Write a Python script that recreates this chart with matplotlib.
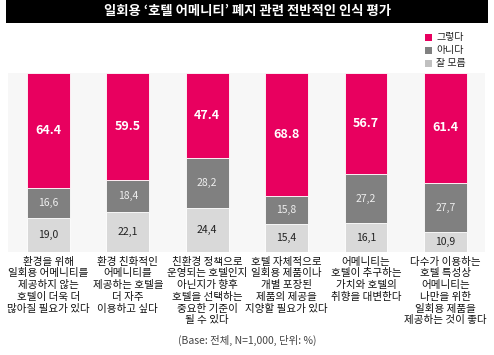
import matplotlib
matplotlib.use("Agg")
import matplotlib.pyplot as plt
from matplotlib.patches import Rectangle
import matplotlib.transforms as mtransforms

plt.rcParams['font.family'] = ['Noto Sans CJK KR', 'DejaVu Sans']

title = "일회용 ‘호텔 어메니티’ 폐지 관련 전반적인 인식 평가"
categories = [
    "환경을 위해\n일회용 어메니티를\n제공하지 않는\n호텔이 더욱 더\n많아질 필요가 있다",
    "환경 친화적인\n어메니티를\n제공하는 호텔을\n더 자주\n이용하고 싶다",
    "친환경 정책으로\n운영되는 호텔인지\n아닌지가 향후\n호텔을 선택하는\n중요한 기준이\n될 수 있다",
    "호텔 자체적으로\n일회용 제품이나\n개별 포장된\n제품의 제공을\n지양할 필요가 있다",
    "어메니티는\n호텔이 추구하는\n가치와 호텔의\n취향을 대변한다",
    "다수가 이용하는\n호텔 특성상\n어메니티는\n나만을 위한\n일회용 제품을\n제공하는 것이 좋다",
]
series_names = ["그렇다", "아니다", "잘 모름"]
yes_vals = [64.4, 59.5, 47.4, 68.8, 56.7, 61.4]
no_vals = [16.6, 18.4, 28.2, 15.8, 27.2, 27.7]
dk_vals = [19.0, 22.1, 24.4, 15.4, 16.1, 10.9]
note = "(Base: 전체, N=1,000, 단위: %)"

c_yes = "#E8005F"
c_no = "#808080"
c_dk = "#D9D9D9"

W, H = 494, 355
fig = plt.figure(figsize=(W / 100, H / 100), dpi=100)

# title bar
fig.patches.append(Rectangle((6 / W, 1 - 23 / H), 482 / W, 23 / H, transform=fig.transFigure,
                             facecolor="black", edgecolor="none"))
fig.text(247 / W, 1 - 11.5 / H, title, ha="center", va="center", color="white",
         fontsize=9.6, fontweight="bold")

ax = fig.add_axes([8 / W, (H - 252) / H, 477 / W, 179 / H])
ax.set_facecolor("#F7F7F7")
for s in ax.spines.values():
    s.set_visible(False)
ax.set_xticks([])
ax.set_yticks([])
ax.set_xlim(-0.51, 5.5)
ax.set_ylim(0, 100)

x = list(range(len(categories)))
bw = 0.54
bottom_no = dk_vals
bottom_yes = [a + b for a, b in zip(dk_vals, no_vals)]
ax.bar(x, dk_vals, width=bw, color=c_dk, edgecolor="white", linewidth=0.6)
ax.bar(x, no_vals, width=bw, bottom=bottom_no, color=c_no, edgecolor="white", linewidth=0.6)
ax.bar(x, yes_vals, width=bw, bottom=bottom_yes, color=c_yes, edgecolor="white", linewidth=0.6)

for i in x:
    ax.text(i, dk_vals[i] / 2, f"{dk_vals[i]:.1f}".replace(".", ","), ha="center", va="center",
            fontsize=7.5, color="#222222")
    ax.text(i, bottom_no[i] + no_vals[i] / 2, f"{no_vals[i]:.1f}".replace(".", ","), ha="center",
            va="center", fontsize=7.5, color="#EEEEEE")
    ax.text(i, bottom_yes[i] + yes_vals[i] / 2, f"{yes_vals[i]:.1f}", ha="center", va="center",
            fontsize=9, color="white", fontweight="bold")

trans = mtransforms.blended_transform_factory(ax.transData, fig.transFigure)
for i in x:
    ax.text(i, 1 - 256.5 / H, categories[i], transform=trans, ha="center", va="top",
            fontsize=7.6, color="#111111", linespacing=1.22)

fig.text(247 / W, 1 - 340 / H, note, ha="center", va="center", fontsize=7.5, color="#444444")

# legend
leg_colors = [c_yes, c_no, "#C0C0C0"]
leg_y = [37, 50, 63]
for name, col, yy in zip(series_names, leg_colors, leg_y):
    fig.patches.append(Rectangle((425 / W, 1 - (yy + 3.5) / H), 7 / W, 7 / H,
                                 transform=fig.transFigure, facecolor=col, edgecolor="none"))
    fig.text(436 / W, 1 - yy / H, name, ha="left", va="center", fontsize=7.2, color="#222222")

fig.savefig("out.png", dpi=100)
